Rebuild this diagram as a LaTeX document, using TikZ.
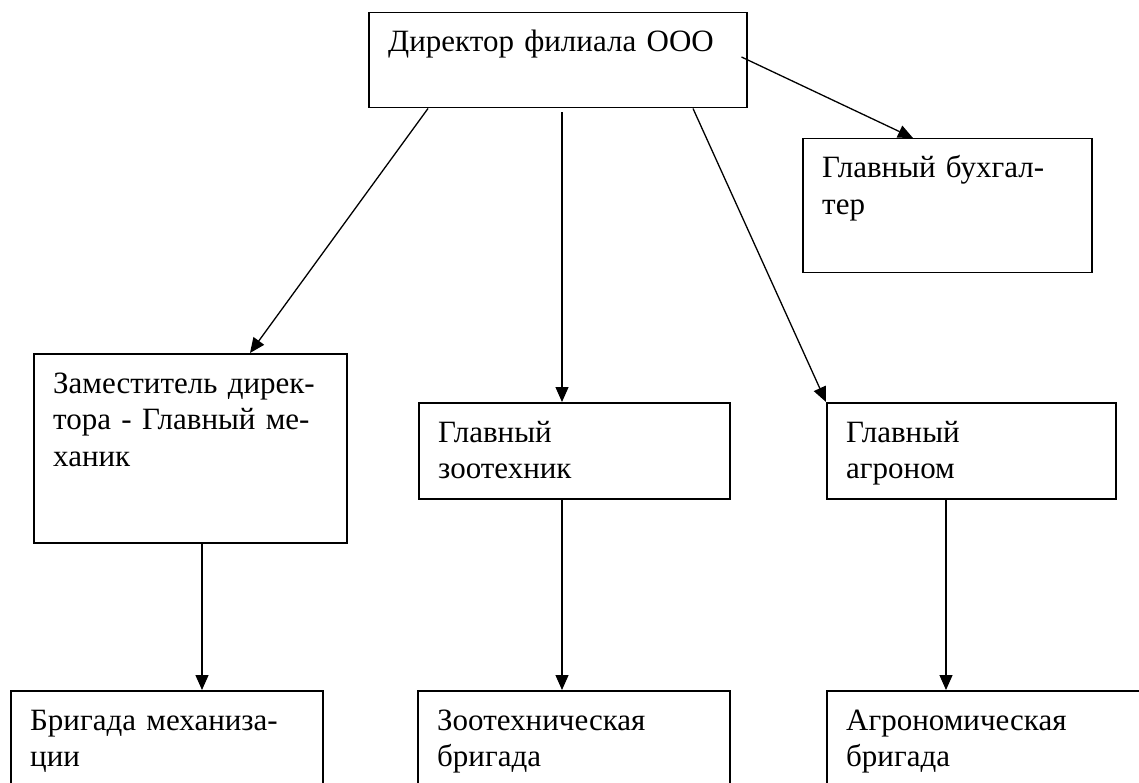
\documentclass[tikz,border=0pt]{standalone}
\usepackage{fontspec}
\setmainfont{Liberation Serif}
\usepackage{tikz}
\usetikzlibrary{arrows.meta,positioning,calc}

\tikzset{
    post/.style={draw,line width=1.5pt,anchor=north west,inner sep=0pt},
    posttext/.style={anchor=base west,align=left,inner sep=0pt,
        font=\fontsize{31}{36.5}\selectfont},
    link/.style={line width=1.3pt,-{Triangle[length=15pt,width=13pt]}}
}

\begin{document}
\begin{tikzpicture}[x=1pt,y=-1pt]
    \useasboundingbox (0,0) rectangle (1139,783);
    \clip (0,0) rectangle (1139,783);

    % Boxes
    \node[post,minimum width=378,minimum height=95] (dir) at (368,12) {};
    \node[post,minimum width=289,minimum height=134] (buh) at (802,138) {};
    \node[post,minimum width=313,minimum height=189] (zam) at (33,353) {};
    \node[post,minimum width=311,minimum height=96] (zoo) at (418,402) {};
    \node[post,minimum width=289,minimum height=96] (agr) at (826,402) {};
    \node[post,minimum width=312,minimum height=150] (brm) at (10,690) {};
    \node[post,minimum width=312,minimum height=150] (brz) at (417,690) {};
    \node[post,minimum width=350,minimum height=150] (bra) at (826,690) {};

    % Texts
    \node[posttext,text width=350] (dirT) at ([xshift=20,yshift=-40]dir.north west) {Директор филиала ООО};
    \node[posttext,text width=265] (buhT) at ([xshift=20,yshift=-40]buh.north west) {Главный бухгал-\\тер};
    \node[posttext,text width=290] (zamT) at ([xshift=20,yshift=-40]zam.north west) {Заместитель дирек-\\тора - Главный ме-\\ханик};
    \node[posttext,text width=285] (zooT) at ([xshift=20,yshift=-40]zoo.north west) {Главный\\зоотехник};
    \node[posttext,text width=265] (agrT) at ([xshift=20,yshift=-40]agr.north west) {Главный\\агроном};
    \node[posttext,text width=290] (brmT) at ([xshift=20,yshift=-40]brm.north west) {Бригада механиза-\\ции};
    \node[posttext,text width=290] (brzT) at ([xshift=20,yshift=-40]brz.north west) {Зоотехническая\\бригада};
    \node[posttext,text width=290] (braT) at ([xshift=20,yshift=-40]bra.north west) {Агрономическая\\бригада};

    % Links from the director
    \draw[link] ([xshift=60]dir.south west) -- ([xshift=217]zam.north west);
    \draw[link] ([xshift=194,yshift=-4]dir.south west) -- ([xshift=144]zoo.north west);
    \draw[link] ([xshift=325]dir.south west) -- (agr.north west);
    \draw[link] ([xshift=-6,yshift=-45]dir.north east) -- ([xshift=111]buh.north west);

    % Links to the brigades
    \draw[link] ([xshift=169]zam.south west) -- ([xshift=192]brm.north west);
    \draw[link] ([xshift=144]zoo.south west) -- ([xshift=145]brz.north west);
    \draw[link] ([xshift=120]agr.south west) -- ([xshift=120]bra.north west);
\end{tikzpicture}
\end{document}
